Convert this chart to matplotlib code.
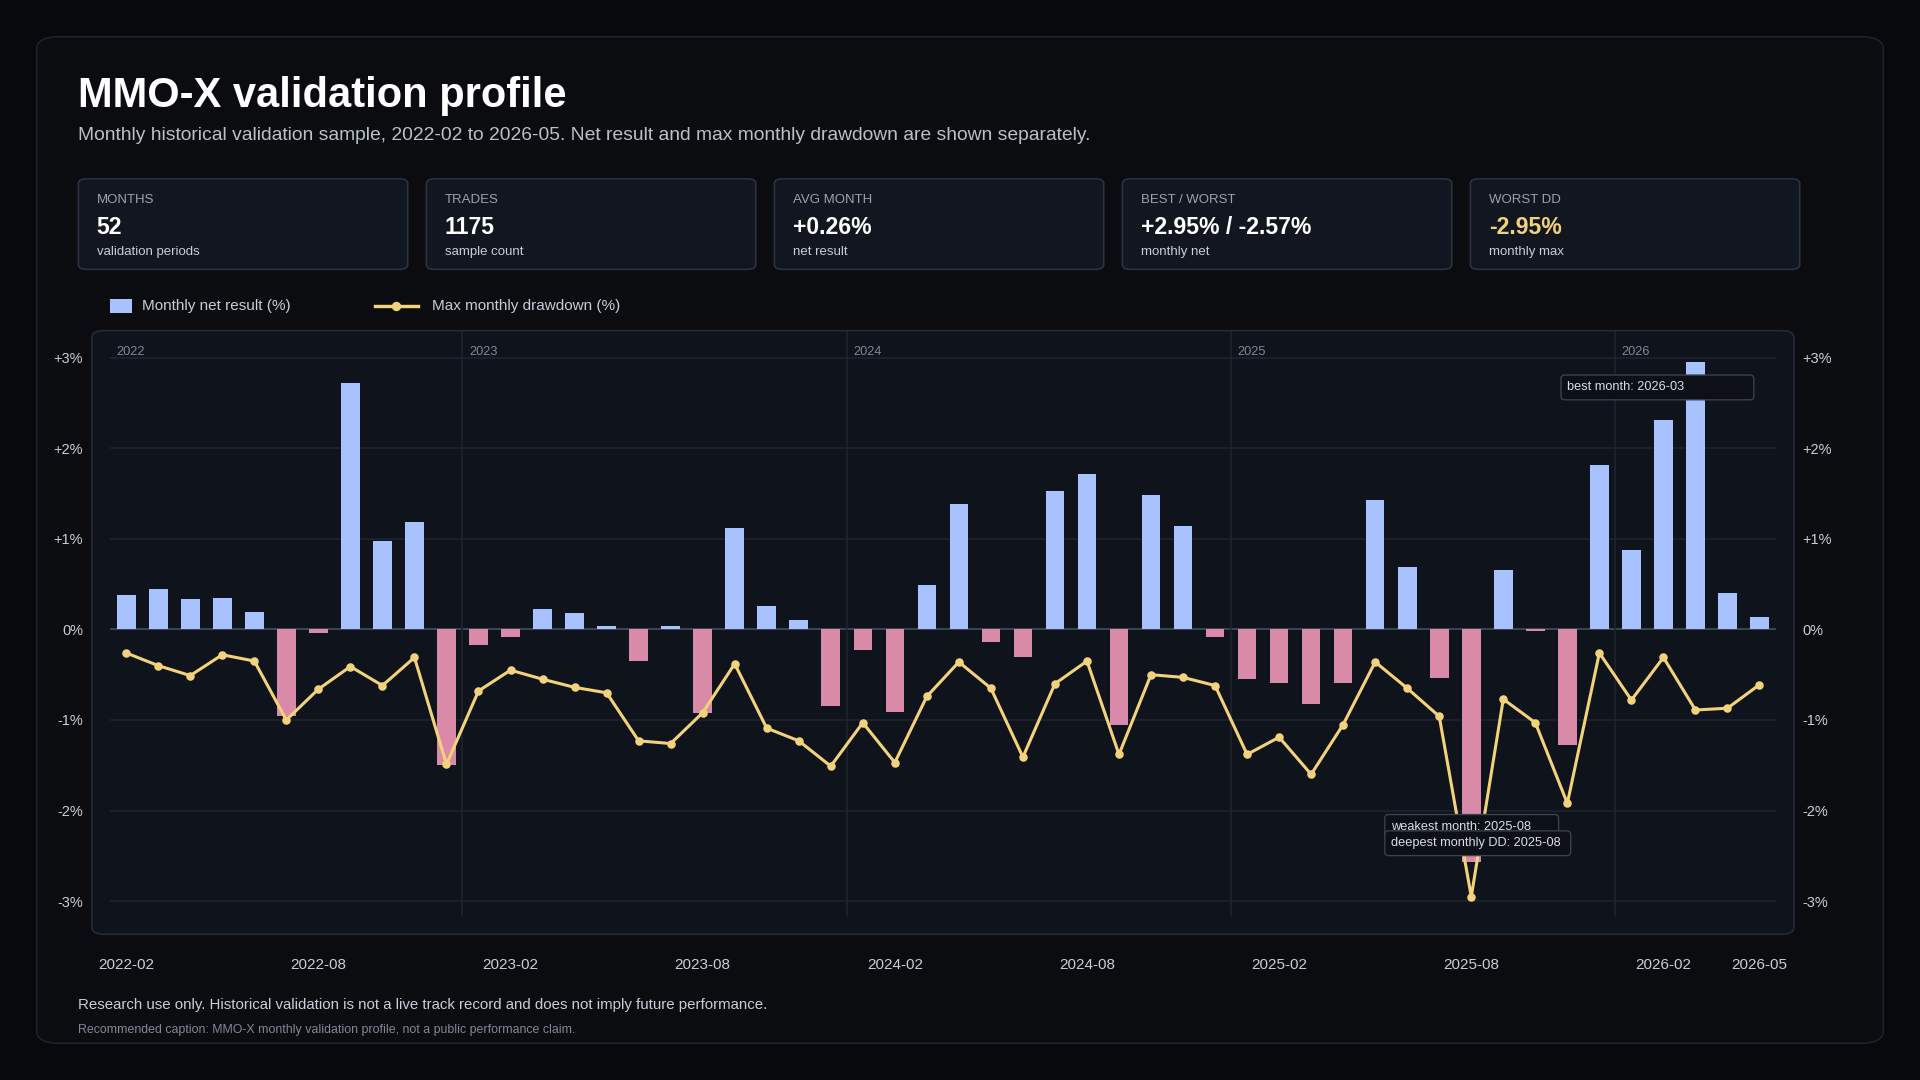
import matplotlib.pyplot as plt
from matplotlib.patches import FancyBboxPatch, Rectangle
from matplotlib.lines import Line2D

plt.rcParams['font.family'] = ['Liberation Sans', 'DejaVu Sans']

months = [f"{y}-{m:02d}" for y in range(2022, 2027) for m in range(1, 13)]
months = months[1:months.index("2026-05") + 1]

net = [0.38, 0.45, 0.34, 0.35, 0.19, -0.96, -0.04, 2.72, 0.97, 1.19, -1.50,
       -0.17, -0.08, 0.22, 0.18, 0.04, -0.35, 0.04, -0.92, 1.12, 0.26, 0.10, -0.85,
       -0.23, -0.91, 0.49, 1.38, -0.14, -0.31, 1.53, 1.72, -1.05, 1.48, 1.14, -0.08,
       -0.55, -0.59, -0.82, -0.59, 1.43, 0.69, -0.54, -2.57, 0.65, -0.02, -1.28, 1.81,
       0.88, 2.31, 2.95, 0.40, 0.14]
drawdown = [-0.26, -0.40, -0.51, -0.28, -0.35, -1.00, -0.66, -0.41, -0.62, -0.31, -1.49,
            -0.68, -0.45, -0.55, -0.64, -0.70, -1.23, -1.26, -0.92, -0.38, -1.09, -1.23, -1.51,
            -1.03, -1.47, -0.74, -0.36, -0.65, -1.41, -0.60, -0.35, -1.38, -0.50, -0.53, -0.62,
            -1.38, -1.19, -1.60, -1.05, -0.36, -0.65, -0.96, -2.95, -0.77, -1.03, -1.92, -0.26,
            -0.78, -0.31, -0.89, -0.87, -0.61]
xtick_labels = ["2022-02", "2022-08", "2023-02", "2023-08", "2024-02", "2024-08",
                "2025-02", "2025-08", "2026-02", "2026-05"]
kpis = [("MONTHS", "52", "validation periods"),
        ("TRADES", "1175", "sample count"),
        ("AVG MONTH", "+0.26%", "net result"),
        ("BEST / WORST", "+2.95% / -2.57%", "monthly net"),
        ("WORST DD", "-2.95%", "monthly max")]

W, H = 1568, 882
BG = "#07090c"
EDGE = "#232a36"
POS = "#a8c1ff"
NEG = "#d98aa8"
LINE = "#f2d27a"
MUTED = "#9aa3b2"


def fx(px):
    return px / W


def fy(py):
    return 1 - py / H


fig = plt.figure(figsize=(W / 100, H / 100), dpi=100, facecolor=BG)


def box(x0, y0, x1, y1, fc, ec, r=8, z=0):
    p = FancyBboxPatch((fx(x0), fy(y1)), fx(x1 - x0), (y1 - y0) / H,
                       boxstyle=f"round,pad=0,rounding_size={r / W}",
                       transform=fig.transFigure, fc=fc, ec=ec, lw=1, zorder=z)
    fig.patches.append(p)


box(30, 30, 1538, 852, "#0a0c10", "#1c212b", r=18)
fig.text(fx(64), fy(78), "MMO-X validation profile", color="white", fontsize=24.5,
         fontweight="bold", va="center")
fig.text(fx(64), fy(111), "Monthly historical validation sample, 2022-02 to 2026-05. "
         "Net result and max monthly drawdown are shown separately.",
         color="#b8c0cc", fontsize=11.3, va="center")

for k, (lab, val, sub) in enumerate(kpis):
    x0 = 64 + k * 284.2
    box(x0, 146, x0 + 269, 220, "#111620", "#2a3140", r=7)
    fig.text(fx(x0 + 15), fy(163), lab, color=MUTED, fontsize=7.8, va="center")
    fig.text(fx(x0 + 15), fy(186), val, color=LINE if k == 4 else "white",
             fontsize=13.5, fontweight="bold", va="center")
    fig.text(fx(x0 + 15), fy(206), sub, color="#c8ced8", fontsize=7.8, va="center")

# legend
fig.patches.append(Rectangle((fx(90), fy(256)), fx(18), 12 / H, transform=fig.transFigure,
                             fc=POS, ec="none"))
fig.text(fx(116), fy(250), "Monthly net result (%)", color="#c8ced8", fontsize=9, va="center")
fig.lines.append(Line2D([fx(306), fx(341)], [fy(250), fy(250)], transform=fig.transFigure,
                        color=LINE, lw=2))
fig.lines.append(Line2D([fx(323.5)], [fy(250)], transform=fig.transFigure,
                        color=LINE, marker="o", ms=4.5, lw=0))
fig.text(fx(353), fy(250), "Max monthly drawdown (%)", color="#c8ced8", fontsize=9, va="center")

box(75, 270, 1465, 763, "#0f131b", EDGE, r=10)

ax = fig.add_axes([fx(90), fy(763), fx(1360), (763 - 270) / H])
ax.set_zorder(5)
ax.set_facecolor("none")
x = list(range(len(months)))
ax.set_xlim(-0.5, len(months) - 0.5)
ax.set_ylim(-3.365, 3.297)
for v in [-3, -2, -1, 0, 1, 2, 3]:
    ax.axhline(v, color="#4a5363" if v == 0 else "#1f2530", lw=0.9, zorder=0)
for i, m in enumerate(months):
    if m.endswith("-01"):
        ax.axvline(i - 0.5, color="#1f2530", lw=0.9, ymin=0.03, zorder=0)
        ax.text(i - 0.3, 3.0, m[:4], color="#7f8896", fontsize=7.5, va="bottom")
ax.text(-0.3, 3.0, "2022", color="#7f8896", fontsize=7.5, va="bottom")

ax.bar(x, net, width=0.58, color=[POS if v >= 0 else NEG for v in net], zorder=2)
ax.plot(x, drawdown, color=LINE, lw=1.8, marker="o", ms=4, zorder=3)

ax.set_yticks([-3, -2, -1, 0, 1, 2, 3])
ax.set_yticklabels(["-3%", "-2%", "-1%", "0%", "+1%", "+2%", "+3%"])
ax.tick_params(axis="y", colors="#c8ced8", labelsize=8.5, length=0, pad=16,
               labelright=True)
ax.set_xticks([months.index(m) for m in xtick_labels])
ax.set_xticklabels(xtick_labels)
ax.tick_params(axis="x", colors="#c8ced8", labelsize=9, length=0, pad=14)
for s in ax.spines.values():
    s.set_visible(False)

bbox = dict(boxstyle="round,pad=0.5,rounding_size=0.3", fc="#0d1117", ec="#3a4250", lw=0.8)
ax.text(months.index("2026-03") - 4, 2.67, "best month: 2026-03" + " " * 18, color="#d8dde6",
        fontsize=7.5, va="center", bbox=bbox, zorder=5)
ax.text(months.index("2025-08") - 2.5, -2.18, "weakest month: 2025-08" + " " * 6, color="#d8dde6",
        fontsize=7.5, va="center", bbox=bbox, zorder=5)
ax.text(months.index("2025-08") - 2.5, -2.36, "deepest monthly DD: 2025-08 ", color="#d8dde6",
        fontsize=7.5, va="center", bbox=bbox, zorder=6)

fig.text(fx(64), fy(821), "Research use only. Historical validation is not a live track record "
         "and does not imply future performance.", color="#c8ced8", fontsize=8.8, va="center")
fig.text(fx(64), fy(841), "Recommended caption: MMO-X monthly validation profile, not a public "
         "performance claim.", color="#7f8896", fontsize=7.3, va="center")

fig.savefig("out.png", dpi=100 * 1920 / W, facecolor=BG)
